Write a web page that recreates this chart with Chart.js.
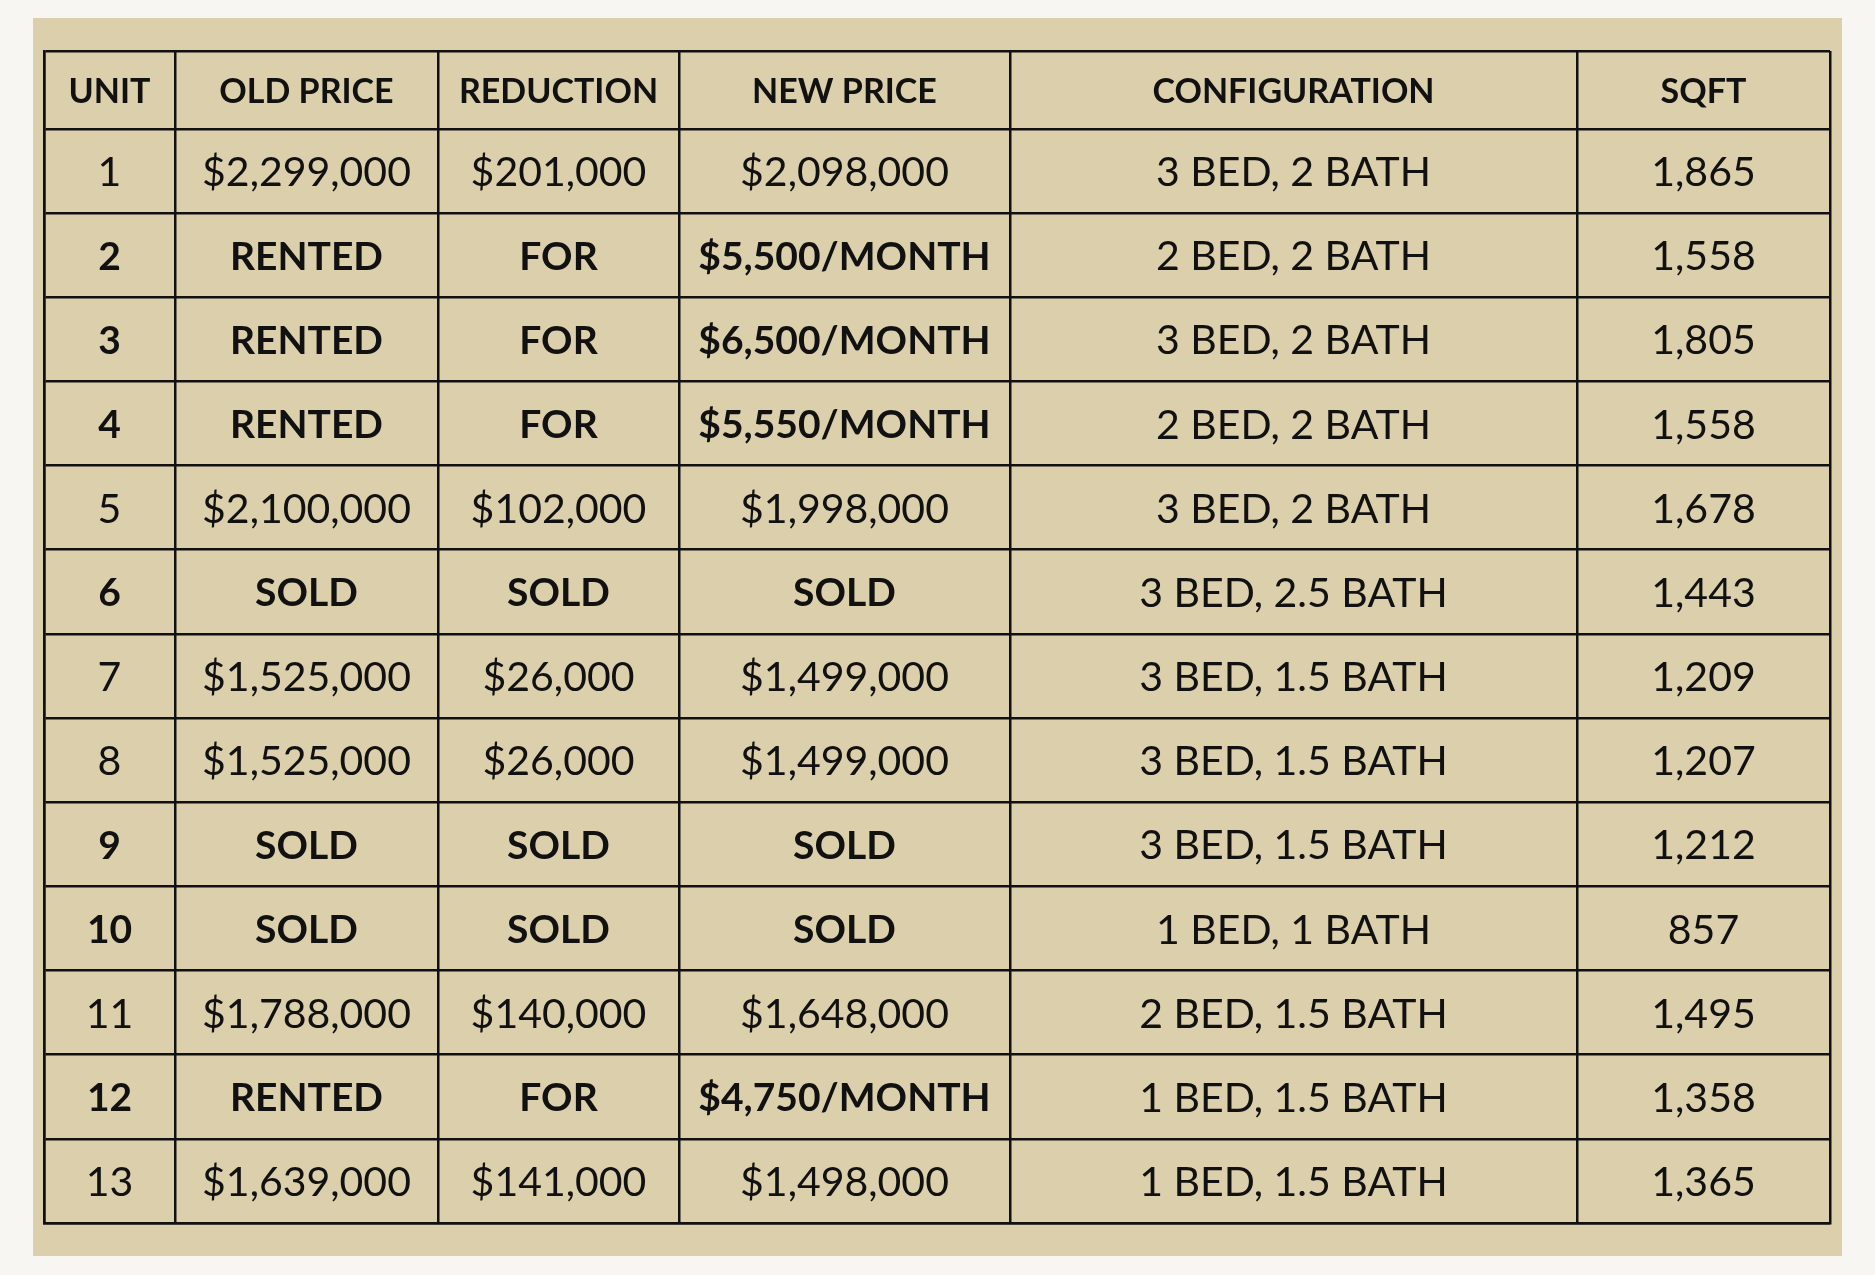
<!DOCTYPE html>
<html><head><meta charset="utf-8">
<script src="https://cdn.jsdelivr.net/npm/chart.js@4.4.0/dist/chart.umd.min.js"></script>
<style>html,body{margin:0;padding:0;background:#f7f6f2;}canvas{display:block;}</style>
</head><body>
<canvas id="c" width="1875" height="1275"></canvas>
<script>
const headers = ['UNIT', 'OLD PRICE', 'REDUCTION', 'NEW PRICE', 'CONFIGURATION', 'SQFT'];
const units = ['1','2','3','4','5','6','7','8','9','10','11','12','13'];
const oldPrices = ['$2,299,000','RENTED','RENTED','RENTED','$2,100,000','SOLD','$1,525,000','$1,525,000','SOLD','SOLD','$1,788,000','RENTED','$1,639,000'];
const reductions = ['$201,000','FOR','FOR','FOR','$102,000','SOLD','$26,000','$26,000','SOLD','SOLD','$140,000','FOR','$141,000'];
const newPrices = ['$2,098,000','$5,500/MONTH','$6,500/MONTH','$5,550/MONTH','$1,998,000','SOLD','$1,499,000','$1,499,000','SOLD','SOLD','$1,648,000','$4,750/MONTH','$1,498,000'];
const configurations = ['3 BED, 2 BATH','2 BED, 2 BATH','3 BED, 2 BATH','2 BED, 2 BATH','3 BED, 2 BATH','3 BED, 2.5 BATH','3 BED, 1.5 BATH','3 BED, 1.5 BATH','3 BED, 1.5 BATH','1 BED, 1 BATH','2 BED, 1.5 BATH','1 BED, 1.5 BATH','1 BED, 1.5 BATH'];
const sqft = ['1,865','1,558','1,805','1,558','1,678','1,443','1,209','1,207','1,212','857','1,495','1,358','1,365'];

// layout: relative column widths, header row slightly shorter than body rows
const colWidths = [131, 263, 241, 331, 567, 253];
const colEdges = colWidths.reduce((a, w) => { a.push(a[a.length - 1] + w); return a; }, [0]);
const headerTop = 0.075;
const columns = [units, oldPrices, reductions, newPrices, configurations, sqft];
const nRows = units.length + 1;

const isBoldRow = i => oldPrices[i] === 'RENTED' || oldPrices[i] === 'SOLD';

const tablePlugin = {
    id: 'tablePlugin',
    beforeDraw(chart) {
        const ctx = chart.ctx;
        ctx.save();
        ctx.fillStyle = '#f7f6f2';
        ctx.fillRect(0, 0, chart.width, chart.height);
        ctx.fillStyle = '#dccfab';
        ctx.fillRect(33, 18, 1809, 1238);
        ctx.restore();
    },
    afterDraw(chart) {
        const ctx = chart.ctx;
        const x = chart.scales.x, y = chart.scales.y;
        ctx.save();
        ctx.fillStyle = '#111';
        ctx.textAlign = 'center';
        ctx.textBaseline = 'middle';
        headers.forEach((h, c) => {
            ctx.font = 'bold 34px Lato';
            const cx = x.getPixelForValue((colEdges[c] + colEdges[c + 1]) / 2);
            ctx.fillText(h, cx, y.getPixelForValue((headerTop + 1) / 2) + 2);
        });
        columns.forEach((col, c) => {
            const cx = x.getPixelForValue((colEdges[c] + colEdges[c + 1]) / 2);
            col.forEach((v, r) => {
                const bold = isBoldRow(r) && c < 4;
                ctx.font = bold ? 'bold 39px Lato' : '41px Lato';
                ctx.fillText(v, cx, y.getPixelForValue(r + 1.5) + 2);
            });
        });
        ctx.restore();
    }
};

new Chart(document.getElementById('c'), {
    type: 'scatter',
    data: { datasets: [{ data: [] }] },
    options: {
        responsive: false,
        animation: false,
        devicePixelRatio: 1,
        layout: { padding: { left: 44, top: 51, right: 45, bottom: 52 } },
        plugins: { legend: { display: false }, tooltip: { enabled: false } },
        scales: {
            x: {
                type: 'linear', min: 0, max: colEdges[colEdges.length - 1],
                afterBuildTicks: s => { s.ticks = colEdges.map(v => ({ value: v })); },
                ticks: { display: false },
                grid: { color: '#111', lineWidth: 2.5, drawTicks: false },
                border: { display: true, color: '#111', width: 2.5 }
            },
            y: {
                type: 'linear', min: headerTop, max: nRows, reverse: true,
                afterBuildTicks: s => { s.ticks = [{ value: headerTop }].concat(Array.from({ length: nRows }, (_, i) => ({ value: i + 1 }))); },
                ticks: { display: false },
                grid: { color: '#111', lineWidth: 2.5, drawTicks: false },
                border: { display: true, color: '#111', width: 2.5 }
            }
        }
    },
    plugins: [tablePlugin]
});
</script>
</body></html>
